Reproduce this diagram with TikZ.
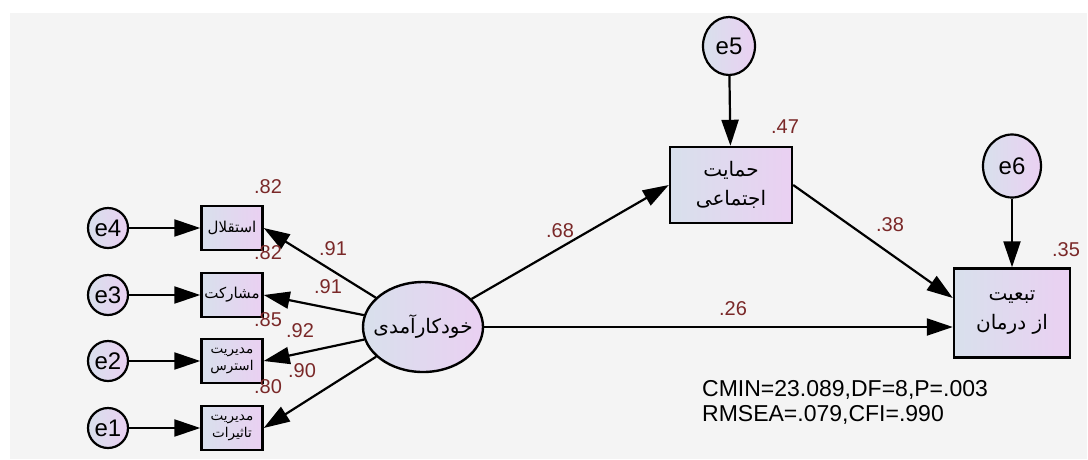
\documentclass[tikz,border=0pt]{standalone}
\usepackage{fontspec}
\setmainfont{Liberation Sans}
\newfontfamily\arabicfont[Script=Arabic]{DejaVu Sans}
\TeXXeTstate=1
\usepackage{tikz}
\usetikzlibrary{arrows.meta}
\usetikzlibrary{shapes.geometric}

\definecolor{lblue}{RGB}{216,224,236}
\definecolor{lpink}{RGB}{234,208,242}
\definecolor{coefred}{RGB}{122,40,40}
\definecolor{bggray}{RGB}{244,244,244}

\tikzset{
  err/.style={ellipse, draw, line width=2.2pt, left color=lblue, right color=lpink,
    inner sep=0pt, minimum width=40pt, minimum height=40pt, font=\fontsize{24}{26}\selectfont},
  obs/.style={rectangle, draw, line width=2.4pt, left color=lblue, right color=lpink,
    inner sep=1pt, minimum width=61pt, minimum height=44pt, align=center,
    font=\arabicfont\fontsize{15}{17}\selectfont},
  twoobs/.style={obs, font=\arabicfont\fontsize{13.5}{17}\selectfont},
  bigobs/.style={obs, font=\arabicfont\fontsize{20}{29}\selectfont},
  lat/.style={ellipse, draw, line width=2.4pt, left color=lblue, right color=lpink,
    inner sep=-12pt, minimum width=120pt, minimum height=90pt,
    font=\arabicfont\fontsize{20}{24}\selectfont},
  path/.style={-{Triangle[length=26pt,width=17pt]}, line width=2.2pt},
  coef/.style={text=coefred, inner sep=0pt, font=\fontsize{20}{22}\selectfont}
}

\begin{document}
\begin{tikzpicture}[x=1pt,y=-1pt]
  \useasboundingbox (0,0) rectangle (1088,459);
  \fill[white] (0,0) rectangle (1088,459);
  \fill[bggray] (10,13) rectangle (1087,459);

  % indicators and their errors
  \node[err] (e4) at (108,228) {e4};
  \node[err] (e3) at (108,295) {e3};
  \node[err] (e2) at (108,361) {e2};
  \node[err] (e1) at (108,428) {e1};
  \node[obs] (b1) at (232,228) {\beginR استقلال\endR};
  \node[obs] (b2) at (232,295) {\beginR مشارکت\endR};
  \node[twoobs] (b3) at (232,361) {\beginR مدیریت\endR\\\beginR استرس\endR};
  \node[twoobs] (b4) at (232,428) {\beginR مدیریت\endR\\\beginR تاثیرات\endR};

  \node[lat] (ell) at (423,327) {\beginR خودکارآمدی\endR};

  \node[bigobs, minimum width=122pt, minimum height=76pt] (hs) at (731,185)
    {\beginR حمایت\endR\\\beginR اجتماعی\endR};
  \node[bigobs, minimum width=116pt, minimum height=89pt] (tb) at (1012,313)
    {\beginR تبعیت\endR\\\beginR از درمان\endR};
  \node[err, minimum width=52pt, minimum height=58pt] (e5) at (729,46) {e5};
  \node[err, minimum width=58pt, minimum height=63pt] (e6) at (1012,166) {e6};

  \foreach \i/\b in {e4/b1,e3/b2,e2/b3,e1/b4}
    \draw[path] (\i) -- (\b);
  \foreach \b in {b1,b2,b3,b4}
    \draw[path] (ell) -- (\b.east);

  \draw[path] (ell) -- (hs.west);
  \draw[path] (ell.east) -- (ell.east -| tb.west);
  \draw[path] (hs.east) -- ([yshift=15pt]tb.west);
  \draw[path] (e5) -- (hs);
  \draw[path] (e6) -- (tb);

  % coefficients
  \node[coef] (r1) at (268,187) {.82};
  \node[coef] (r2) at (268,253) {.82};
  \node[coef] (r3) at (268,320) {.85};
  \node[coef] (r4) at (268,387) {.80};
  \node[coef] (l1) at (333,249) {.91};
  \node[coef] (l2) at (328,287) {.91};
  \node[coef] (l3) at (300,331) {.92};
  \node[coef] (l4) at (302,371) {.90};
  \node[coef] (p1) at (560,231) {.68};
  \node[coef] (p2) at (890,225) {.38};
  \node[coef] (p3) at (733,309) {.26};
  \node[coef] (r5) at (785,127) {.47};
  \node[coef] (r6) at (1066,250) {.35};

  \node[anchor=base west, align=left, inner sep=0pt, font=\fontsize{23}{25}\selectfont] (fit) at (702,421)
    {CMIN=23.089,DF=8,P=.003\\RMSEA=.079,CFI=.990};
\end{tikzpicture}
\end{document}
